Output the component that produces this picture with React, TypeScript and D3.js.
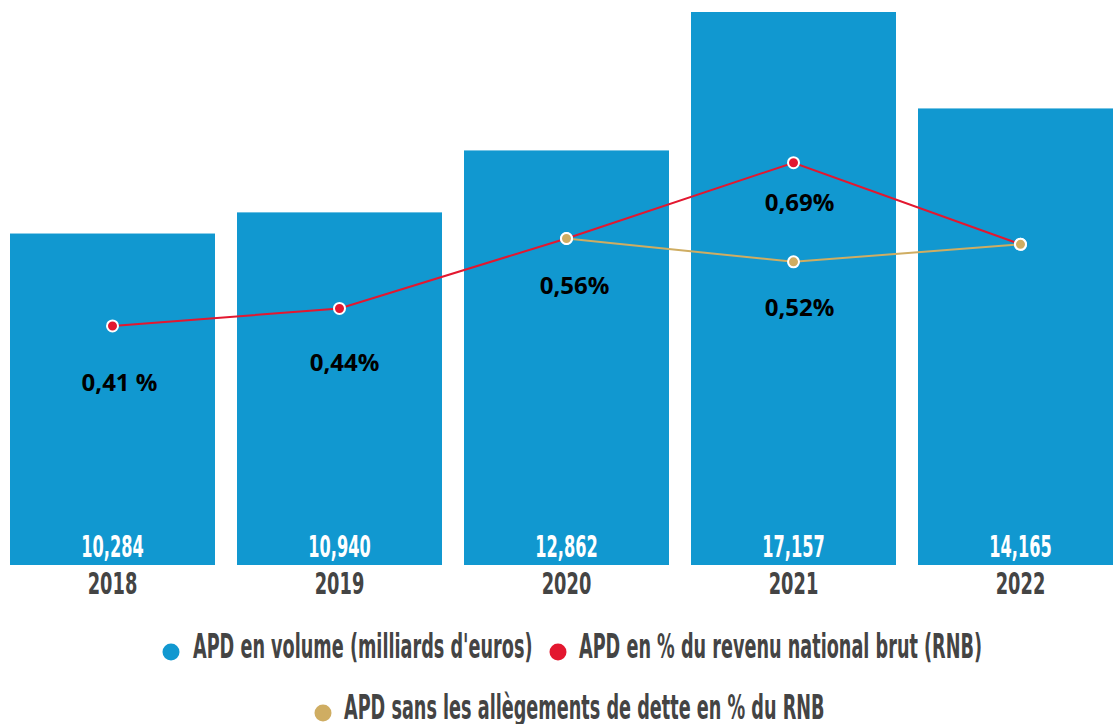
import React from "react";
import * as d3 from "d3";

const years = ["2018", "2019", "2020", "2021", "2022"];
const volume = [10.284, 10.94, 12.862, 17.157, 14.165];
const volumeLabels = ["10,284", "10,940", "12,862", "17,157", "14,165"];
const pctRNB = [0.41, 0.44, 0.56, 0.69, 0.55];
const pctNoDebtYears = ["2020", "2021", "2022"];
const pctNoDebt = [0.56, 0.52, 0.55];
const pctLabels = [
  { year: "2018", value: 0.41, text: "0,41 %" },
  { year: "2019", value: 0.44, text: "0,44%" },
  { year: "2020", value: 0.56, text: "0,56%" },
  { year: "2021", value: 0.69, text: "0,69%" },
  { year: "2021", value: 0.52, text: "0,52%" },
];
const legendItems = [
  "APD en volume (milliards d'euros)",
  "APD en % du revenu national brut (RNB)",
  "APD sans les allègements de dette en % du RNB",
];

// layout
const W = 1113;
const H = 724;
const BASE = 565;
const TOP = 12;
const labelOffsets = [
  { dx: 7, dy: 65 },
  { dx: 5, dy: 63 },
  { dx: 8, dy: 55 },
  { dx: 6, dy: 48 },
  { dx: 6, dy: 54 },
];
const BLUE = "#1198d0";
const RED = "#e3172f";
const GOLD = "#cfad62";
const DARK = "#444444";
const COND = "'DejaVu Sans Condensed', 'DejaVu Sans', sans-serif";

export default function App() {
  const x = d3.scaleBand<string>().domain(years).range([10, 1123]).paddingInner(22 / 227).paddingOuter(0);
  const y1 = d3.scaleLinear().domain([0, 17.157]).range([BASE, TOP]);
  const y2 = d3.scaleLinear().domain([0, 0.9485]).range([BASE, TOP]);
  const cx = (yr: string) => (x(yr) as number) + x.bandwidth() / 2;

  const line = d3
    .line<[string, number]>()
    .x((d) => cx(d[0]))
    .y((d) => y2(d[1]));

  const redData: [string, number][] = years.map((yr, i) => [yr, pctRNB[i]]);
  const goldData: [string, number][] = pctNoDebtYears.map((yr, i) => [yr, pctNoDebt[i]]);

  const legendText = (tx: number, ty: number, s: string) => (
    <text transform={`translate(${tx},${ty}) scale(0.595,1)`} fill={DARK} fontFamily={COND} fontWeight={700} fontSize={33}>
      {s}
    </text>
  );

  return (
    <svg width={W} height={H} style={{ position: "absolute", left: 0, top: 0, background: "#fff" }}>
      {years.map((yr, i) => (
        <rect key={yr} x={x(yr)} y={y1(volume[i])} width={x.bandwidth()} height={BASE - y1(volume[i])} fill={BLUE} />
      ))}
      {years.map((yr, i) => (
        <text
          key={"v" + yr}
          transform={`translate(${cx(yr)},557) scale(0.6,1)`}
          textAnchor="middle"
          fill="#fff"
          fontFamily={COND}
          fontWeight={700}
          fontSize={30}
        >
          {volumeLabels[i]}
        </text>
      ))}
      {years.map((yr) => (
        <text
          key={"y" + yr}
          transform={`translate(${cx(yr)},594) scale(0.66,1)`}
          textAnchor="middle"
          fill={DARK}
          fontFamily={COND}
          fontWeight={700}
          fontSize={30}
        >
          {yr}
        </text>
      ))}
      <path d={line(redData) || ""} fill="none" stroke={RED} strokeWidth={2} />
      <path d={line(goldData) || ""} fill="none" stroke={GOLD} strokeWidth={2} />
      {redData.map((d) => (
        <circle key={"r" + d[0]} cx={cx(d[0])} cy={y2(d[1])} r={5.5} fill={RED} stroke="#fff" strokeWidth={2} />
      ))}
      {goldData.map((d) => (
        <circle key={"g" + d[0]} cx={cx(d[0])} cy={y2(d[1])} r={5.5} fill={GOLD} stroke="#fff" strokeWidth={2} />
      ))}
      {pctLabels.map((l, i) => (
        <text
          key={"p" + i}
          x={cx(l.year) + labelOffsets[i].dx}
          y={y2(l.value) + labelOffsets[i].dy}
          textAnchor="middle"
          fill="#000"
          fontFamily="'Open Sans', sans-serif"
          fontWeight={700}
          fontSize={24}
        >
          {l.text}
        </text>
      ))}
      {/* legend */}
      <circle cx={171} cy={652} r={8.5} fill={BLUE} />
      {legendText(193, 658, legendItems[0])}
      <circle cx={558} cy={652} r={8.5} fill={RED} />
      {legendText(579, 658, legendItems[1])}
      <circle cx={323} cy={713} r={8.5} fill={GOLD} />
      {legendText(344, 719, legendItems[2])}
    </svg>
  );
}
